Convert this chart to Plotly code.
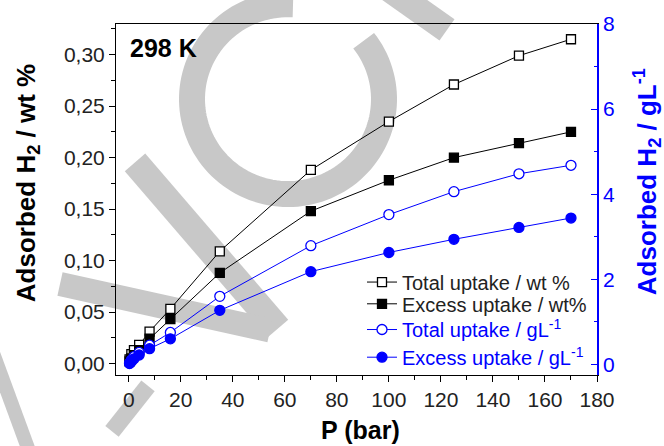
import numpy as np
import plotly.graph_objects as go

pressure = [0.3, 1, 2, 4, 8, 16, 35, 70, 100, 125, 150, 170]
total_wt = [0.004, 0.009, 0.013, 0.018, 0.031, 0.053, 0.109, 0.188, 0.235, 0.271, 0.299, 0.315]
excess_wt = [0.002, 0.005, 0.008, 0.013, 0.024, 0.043, 0.088, 0.148, 0.178, 0.200, 0.214, 0.225]
total_gl = [0.03, 0.10, 0.18, 0.28, 0.45, 0.75, 1.60, 2.79, 3.52, 4.06, 4.48, 4.68]
excess_gl = [0.02, 0.07, 0.13, 0.22, 0.37, 0.60, 1.27, 2.18, 2.63, 2.94, 3.22, 3.44]

names = ["Total uptake / wt %", "Excess uptake / wt%",
         "Total uptake / gL<sup>-1</sup>", "Excess uptake / gL<sup>-1</sup>"]

BLUE = "#0000FF"
GRAY = "#c8c8c8"
FONT = "Liberation Sans, Arial, sans-serif"

W, H = 664, 446
L, R, T, B = 116, 67, 20, 71
PW, PH = W - L - R, H - T - B


def px(x):
    return (x - L) / PW


def py(y):
    return (H - B - y) / PH


fig = go.Figure()
fig.add_trace(go.Scatter(x=pressure, y=total_wt, name=names[0], mode="lines+markers",
                         legend="legend",
                         line=dict(color="black", width=1),
                         marker=dict(symbol="square", size=9, color="white",
                                     line=dict(color="black", width=1.3))))
fig.add_trace(go.Scatter(x=pressure, y=excess_wt, name=names[1], mode="lines+markers",
                         legend="legend2",
                         line=dict(color="black", width=1),
                         marker=dict(symbol="square", size=9, color="black",
                                     line=dict(color="black", width=1.3))))
fig.add_trace(go.Scatter(x=pressure, y=total_gl, name='<span style="color:#0000FF">' + names[2] + '</span>',
                         mode="lines+markers", yaxis="y2", legend="legend3",
                         line=dict(color=BLUE, width=1),
                         marker=dict(symbol="circle", size=10, color="white",
                                     line=dict(color=BLUE, width=1.3))))
fig.add_trace(go.Scatter(x=pressure, y=excess_gl, name='<span style="color:#0000FF">' + names[3] + '</span>',
                         mode="lines+markers", yaxis="y2", legend="legend4",
                         line=dict(color=BLUE, width=1),
                         marker=dict(symbol="circle", size=10, color=BLUE,
                                     line=dict(color=BLUE, width=1.3))))

# watermark (decorative background strokes)
shapes = []
cx, cy, rr = 288, 96, 96
th = np.radians(np.linspace(38, -273, 120))
ax = cx + rr * np.cos(th)
ay = cy - rr * np.sin(th)
path = "M " + " L ".join(f"{px(a):.5f},{py(b):.5f}" for a, b in zip(ax, ay))
shapes.append(dict(type="path", path=path, xref="paper", yref="paper", layer="below",
                   line=dict(color=GRAY, width=26), fillcolor="rgba(0,0,0,0)"))
strokes = [((135, 160), (278, 328), 27),
           ((60, 283), (270, 330), 24),
           ((148, 386), (112, 432), 17),
           ((-8, 350), (32, 460), 14),
           ((380, -22), (447, 26), 26)]
for (x0, y0), (x1, y1), w in strokes:
    shapes.append(dict(type="line", x0=px(x0), y0=py(y0), x1=px(x1), y1=py(y1),
                       xref="paper", yref="paper", layer="below",
                       line=dict(color=GRAY, width=w)))

tickfont = dict(family=FONT, size=21, color="#222")
legfont = dict(family=FONT, size=20, color="#222")
leg_x = px(362)
leg_rows = [281, 303, 329, 357]


def legend_at(yrow):
    return dict(x=leg_x, y=py(yrow), xanchor="left", yanchor="middle",
                bgcolor="rgba(0,0,0,0)", borderwidth=0, font=legfont)


fig.update_layout(
    width=W, height=H, autosize=False,
    margin=dict(l=L, r=R, t=T, b=B, pad=0),
    paper_bgcolor="white", plot_bgcolor="rgba(0,0,0,0)",
    separators=",.",
    font=dict(family=FONT, color="black"),
    showlegend=True,
    legend=legend_at(leg_rows[0]),
    legend2=legend_at(leg_rows[1]),
    legend3=legend_at(leg_rows[2]),
    legend4=legend_at(leg_rows[3]),
    shapes=shapes,
    xaxis=dict(range=[-4.9, 180], dtick=20, tick0=0, showline=True, linecolor="black",
               linewidth=1, mirror=True, ticks="outside", ticklen=6, tickwidth=1,
               tickcolor="black", tickfont=tickfont, showgrid=False, zeroline=False,
               minor=dict(dtick=10, ticks="outside", ticklen=4, tickcolor="black")),
    yaxis=dict(range=[-0.0112, 0.3298], dtick=0.05, tick0=0, tickformat=".2f",
               showline=True, linecolor="black", linewidth=1, ticks="outside",
               ticklen=6, tickwidth=1, tickcolor="black", tickfont=tickfont,
               showgrid=False, zeroline=False,
               minor=dict(dtick=0.025, ticks="outside", ticklen=4, tickcolor="black")),
    yaxis2=dict(range=[-0.25, 8.001], dtick=2, tick0=0, overlaying="y", side="right",
                showline=True, linecolor=BLUE, linewidth=1.5, ticks="inside",
                ticklen=6, tickwidth=1, tickcolor=BLUE,
                tickfont=dict(family=FONT, size=21, color=BLUE),
                showgrid=False, zeroline=False,
                minor=dict(dtick=1, ticks="inside", ticklen=3, tickcolor=BLUE)),
    annotations=[
        dict(text="<b>298 K</b>", x=px(128), y=py(44), xref="paper", yref="paper",
             xanchor="left", yanchor="middle", showarrow=False,
             font=dict(family=FONT, size=25, color="black")),
        dict(text="<b>Adsorbed H<sub>2</sub> / wt %</b>", textangle=-90,
             x=px(27), y=py(181), xref="paper", yref="paper",
             xanchor="center", yanchor="middle", showarrow=False,
             font=dict(family=FONT, size=26, color="black")),
        dict(text="<b>Adsorbed H<sub>2</sub> / gL<sup>-1</sup></b>", textangle=-90,
             x=px(647), y=py(180), xref="paper", yref="paper",
             xanchor="center", yanchor="middle", showarrow=False,
             font=dict(family=FONT, size=26, color=BLUE)),
        dict(text="<b>P (bar)</b>", x=px(360), y=py(431),
             xref="paper", yref="paper", xanchor="center", yanchor="middle",
             showarrow=False, font=dict(family=FONT, size=25, color="black")),
    ],
)

fig.write_html("out.html")
